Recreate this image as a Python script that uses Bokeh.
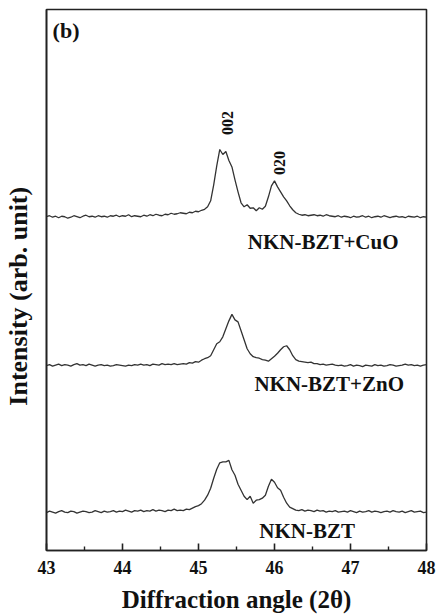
import numpy as np
from bokeh.plotting import figure
from bokeh.models import FixedTicker, Range1d, Label
from bokeh.embed import file_html
from bokeh.resources import INLINE

# ---- data -------------------------------------------------------------
two_theta = [round(43 + 0.04 * i, 2) for i in range(126)]

# intensities above each pattern's own baseline (arb. unit)
int_cuo = [0.5, 1.5, 0, 1, -0.5, 1, 0.5, -1, 0, 1.5,
           0.5, -0.5, 1, 2, 0.5, 1, 0, 1.5, 0.5, 1,
           0, 1.5, 1, 2, 0.5, 1.5, 1, 2.5, 0.5, 1.5,
           1, 0.5, 2, 1, 2.5, 1.5, 3, 2, 1.5, 3,
           2.5, 4, 3, 3.5, 4.5,
           4, 3.5, 5, 4.5, 6, 5.5, 7, 8, 10.5, 16.5, 32.5, 51.5, 68, 63, 66, 57,
           50.5, 37.5, 25.5, 14.5, 10.5, 12.5, 9, 9.5, 6.5, 9.5, 8, 11, 20.5, 31.5,
           36.5, 30.5, 25.5, 20.5, 16.5, 11.5, 7.5, 4.5, 3, 2, 2.5, 1.5, 2,
           2.5, 1.5, 2, 1, 2.5, 1.5, 1, 0.5, 1.5, 0,
           1, 0.5, -0.5, 1, 0, 0.5, 1.5, 0, 1, -0.5,
           0.5, 1, 0, 1.5, 0.5, -0.5, 0.5, 1, 0, 0.5,
           -0.5, 1, 0.5, 0, 1, -0.5, 0.5, 0]

int_zno = [0, 1, -0.5, 0.5, 1.5, 0, 1, 0.5, -0.5, 1,
           2, 0.5, 1, 0, 1.5, 0.5, -0.5, 0.5, 1, 0,
           0.5, -0.5, 0, 1, 0.5, 0, -0.5, 0.5, 0, 1,
           0.5, 1.5, 0.5, 1, 0, 1.5, 1, 0.5, 2, 1,
           1.5, 1, 2, 1,
           1.5, 2, 1.5, 3, 2.5, 4, 3.5, 5.5, 7, 8, 10, 16, 22, 24, 29, 37, 45, 51.5,
           46, 44, 35, 26, 17, 12, 9, 8, 7.5, 6, 5.5, 4.5, 7, 9.5, 12.5, 16, 19, 20,
           16, 10, 6, 4.5, 4, 3.5, 3, 3.5, 2,
           2, 1, 1.5, 0.5, 1, 1.5, 0.5, 0, 0.5, -0.5,
           0, 1, -0.5, 0.5, 0, -1, 0.5, 0, -0.5, 1,
           0, 0.5, -0.5, 0, 1, 0.5, -0.5, 0, 0.5, 1.5,
           0.5, 1, 0, 0.5, -0.5, 0.5, 1]

int_nkn = [-0.5, 1, 0, -1, 0.5, 1.5, 0, -0.5, 1, 0.5,
           -1, 0, 1, 0.5, -0.5, 0, 1.5, 0.5, -0.5, 1,
           0, 0.5, 1.5, 0, 1, 0.5, 2, 1, 0, 1.5,
           1, 2, 0.5, 1.5, 1, 2.5, 1, 2, 1.5, 0.5,
           2, 1.5, 3, 1.5,
           2, 1.5, 3, 2.5, 4, 5.5, 6.5, 8.5, 12, 17, 24, 34, 43, 49.5, 50.5, 50.5,
           52, 42.5, 37, 28, 22, 16, 12.5, 16, 9, 12, 12.5, 14, 17, 26, 33, 30,
           24.5, 22, 15, 9, 5, 3.5, 2,
           1.5, 2.5, 1, 2, 1.5, 0.5, 2, 1, 1.5, 0,
           1, 0.5, 1.5, 0, 0.5, 1, 0, 1.5, 0.5, -0.5,
           1, 0, 0.5, 1.5, 0, 1, 0.5, -0.5, 0.5, 1,
           0, 1.5, 0.5, 0, 1, -0.5, 0.5, 1.5, 0, 0.5,
           1, -0.5, 0]

series_names = ["NKN-BZT+CuO", "NKN-BZT+ZnO", "NKN-BZT"]
series_offsets = [334.5, 185.5, 38.5]
x_ticks = [43, 44, 45, 46, 47, 48]
x_minor = [43.5, 44.5, 45.5, 46.5, 47.5]
peak_labels = ["002", "020"]

# ---- figure -----------------------------------------------------------
FONT = "Liberation Serif"
INK = "#111111"
p = figure(width=436, height=615, output_backend="svg", toolbar_location=None,
           x_range=Range1d(43, 48), y_range=Range1d(0, 543),
           min_border_left=46, min_border_right=10, min_border_top=9,
           min_border_bottom=63)
p.background_fill_color = "white"
p.border_fill_color = "white"
p.grid.visible = False
p.outline_line_color = "#222222"
p.outline_line_width = 1.6

ya = p.yaxis[0]
ya.ticker = FixedTicker(ticks=[])
ya.major_tick_out = 0
ya.major_tick_in = 0
ya.minor_tick_out = 0
ya.minor_tick_in = 0
ya.axis_line_color = "#222222"
ya.axis_line_width = 1.6
ya.axis_label = "Intensity (arb. unit)" + "\u00a0" * 5
ya.axis_label_text_font = FONT
ya.axis_label_text_font_style = "bold"
ya.axis_label_text_font_size = "26px"
ya.axis_label_text_color = INK
ya.axis_label_standoff = 14

xa = p.xaxis[0]
xa.ticker = FixedTicker(ticks=x_ticks, minor_ticks=x_minor)
xa.major_tick_in = 7
xa.major_tick_out = 0
xa.minor_tick_in = 4
xa.minor_tick_out = 0
xa.major_tick_line_width = 1.6
xa.minor_tick_line_width = 1.4
xa.axis_line_width = 1.6
xa.axis_line_color = "#222222"
xa.major_tick_line_color = "#222222"
xa.minor_tick_line_color = "#222222"
xa.major_label_text_font = FONT
xa.major_label_text_font_style = "bold"
xa.major_label_text_font_size = "18px"
xa.major_label_text_color = INK
xa.major_label_standoff = 10
xa.axis_label = "Diffraction angle (2θ)"
xa.axis_label_text_font = FONT
xa.axis_label_text_font_style = "bold"
xa.axis_label_text_font_size = "25px"
xa.axis_label_text_color = INK
xa.axis_label_standoff = 9

curves = [int_cuo, int_zno, int_nkn]
for vals, off in zip(curves, series_offsets):
    y = [off + v for v in vals]
    p.line(two_theta, y, line_color="#333333", line_width=1.3)

# curve labels
label_pos = [(46.64, 309.5), (46.72, 167), (46.43, 19.5)]
for name, (lx, ly) in zip(series_names, label_pos):
    p.add_layout(Label(x=lx, y=ly, text=name, text_font=FONT, text_font_style="bold",
                       text_font_size="21px", text_align="center",
                       text_baseline="middle", text_color=INK))

# peak indices
peak_pos = [(45.38, 429), (46.06, 389)]
for t, (lx, ly) in zip(peak_labels, peak_pos):
    p.add_layout(Label(x=lx, y=ly, text=t, angle=np.pi / 2, text_font=FONT,
                       text_font_style="bold", text_font_size="16px",
                       text_align="center", text_baseline="middle",
                       text_color=INK))

# panel letter
p.add_layout(Label(x=43.08, y=522, text="(b)", text_font=FONT, text_font_style="bold",
                   text_font_size="22px", text_align="left", text_baseline="middle",
                   text_color=INK))

open("out.html", "w").write(file_html(p, INLINE))
